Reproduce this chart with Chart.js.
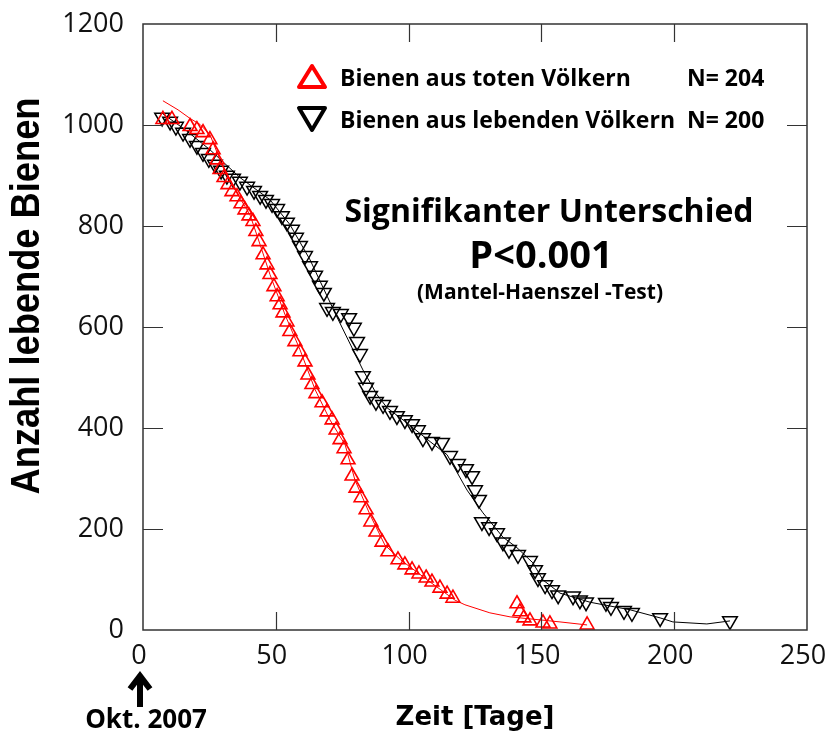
<!DOCTYPE html>
<html>
<head>
<meta charset="utf-8">
<script src="https://cdn.jsdelivr.net/npm/chart.js@4.4.1/dist/chart.umd.min.js"></script>
<style>
  html, body { margin: 0; padding: 0; background: #fff; }
  #wrap { width: 827px; height: 737px; }
</style>
</head>
<body>
<div id="wrap"><canvas id="chart" width="827" height="737"></canvas></div>
<script>
// Bienen aus toten Völkern (Dreiecke, rot)
const redMarkX = [7.5, 10.9, 17.7, 20.3, 22.6, 25.2, 26.4, 27.9, 29.0, 30.5, 32.0, 33.5, 35.4, 36.9, 38.4, 39.9, 41.4, 42.5, 43.7, 45.2,
  46.7, 47.8, 49.3, 50.5, 51.6, 52.7, 54.2, 55.3, 57.2, 59.1, 61.0, 62.1, 63.6, 65.1, 67.4, 69.3, 71.2, 72.7, 74.2, 75.7,
  77.2, 78.7, 80.2, 82.1, 84.0, 85.8, 87.7, 90.0, 92.2, 96.0, 98.6, 101.3, 103.9, 106.6, 108.8, 111.8, 114.5, 116.7,
  140.8, 141.9, 143.4, 145.7, 150.6, 153.2, 167.2];
const redMarkY = [1011, 1011, 997, 991, 985, 971, 951, 931, 912, 896, 882, 868, 858, 844, 832, 820, 809, 789, 769, 743,
  723, 704, 680, 660, 644, 628, 610, 591, 571, 551, 531, 505, 486, 468, 450, 432, 416, 396, 377, 359,
  337, 305, 281, 262, 238, 214, 194, 174, 155, 139, 129, 119, 111, 103, 95, 83, 71, 63,
  52, 36, 24, 18, 14, 12, 10];
const redLineX = [7.5, 13.2, 17.7, 21.5, 25.2, 29.0, 34.6, 40.3, 44.1, 47.8, 53.5, 59.1, 64.8, 70.4, 76.1, 79.8, 85.5, 91.1, 97.0,
  108.1, 117.5, 121.2, 130.6, 138.2, 149.5, 157.0, 167.2];
const redLineY = [1048, 1030, 1013, 1001, 981, 931, 872, 822, 763, 704, 624, 555, 476, 416, 367, 297, 228, 168, 139,
  95, 59, 50, 34, 26, 20, 16, 10];

// Bienen aus lebenden Völkern (Dreiecke, schwarz)
const blackMarkX = [7.2, 10.2, 12.4, 15.1, 17.7, 20.3, 22.6, 24.8, 27.1, 29.4, 31.6, 33.9, 36.5, 39.2, 41.8, 44.1, 46.3, 48.6, 50.5, 52.3,
  54.2, 56.1, 57.6, 59.1, 61.0, 62.9, 64.8, 66.6, 68.1, 69.3, 71.5, 74.5, 77.6, 79.4, 80.6, 81.7, 82.8, 84.0, 85.5, 87.7,
  90.4, 93.0, 95.6, 98.6, 101.3, 103.5, 105.4, 108.8, 112.6, 115.6, 118.6, 121.6, 123.9, 125.0, 126.5, 127.6, 130.3, 133.3,
  135.5, 137.8, 141.2, 145.7, 147.6, 148.7, 151.4, 154.0, 156.3, 161.9, 164.5, 166.8, 174.3, 176.2, 181.1, 184.1, 194.7, 221.0];
const blackMarkY = [1015, 1007, 997, 985, 973, 959, 945, 933, 922, 910, 900, 894, 888, 878, 870, 860, 852, 844, 834, 820,
  807, 793, 777, 761, 741, 721, 702, 682, 668, 638, 630, 626, 618, 599, 571, 547, 503, 480, 464, 452,
  446, 434, 424, 416, 408, 396, 380, 373, 371, 345, 329, 319, 305, 277, 258, 214, 204, 192,
  174, 159, 149, 137, 119, 103, 89, 79, 69, 67, 59, 55, 54, 46, 38, 34, 24, 18];
const blackLineX = [7.5, 15.8, 25.2, 36.5, 47.8, 55.3, 62.9, 73.0, 82.8, 88.1, 91.9, 99.4, 108.1, 114.5, 122.0, 128.0, 135.5,
  140.8, 146.8, 150.6, 157.0, 168.3, 183.4, 194.7, 199.5, 212.3, 221.0];
const blackLineY = [1022, 991, 951, 896, 852, 803, 733, 620, 515, 466, 440, 410, 373, 347, 277, 232, 184,
  163, 133, 99, 73, 55, 40, 24, 16, 12, 18];

const legendLabels = ['Bienen aus toten Völkern', 'Bienen aus lebenden Völkern'];
const legendN = ['N= 204', 'N= 200'];
const noteLines = ['Signifikanter Unterschied', 'P<0.001', '(Mantel-Haenszel -Test)'];
const yTitle = 'Anzahl lebende Bienen';
const xTitle = 'Zeit [Tage]';
const startLabel = 'Okt. 2007';

const RED = '#ff0000';
const pts = (xs, ys) => xs.map((x, i) => ({ x: x, y: ys[i] }));

// Rahmen mit nach innen zeigenden Ticks
const framePlugin = {
  id: 'frame',
  afterDatasetsDraw(chart) {
    const { ctx, chartArea: a, scales: { x, y } } = chart;
    ctx.save();
    ctx.strokeStyle = '#333';
    ctx.lineWidth = 1.5;
    ctx.strokeRect(a.left, a.top, a.right - a.left, a.bottom - a.top);
    ctx.beginPath();
    x.ticks.forEach(t => {
      if (t.value <= x.min || t.value >= x.max) return;
      const px = Math.round(x.getPixelForValue(t.value)) + 0.5;
      ctx.moveTo(px, a.bottom); ctx.lineTo(px, a.bottom - 18);
      ctx.moveTo(px, a.top); ctx.lineTo(px, a.top + 18);
    });
    y.ticks.forEach(t => {
      if (t.value <= y.min || t.value >= y.max) return;
      const py = Math.round(y.getPixelForValue(t.value)) + 0.5;
      ctx.moveTo(a.left, py); ctx.lineTo(a.left + 20, py);
      ctx.moveTo(a.right, py); ctx.lineTo(a.right - 20, py);
    });
    ctx.lineWidth = 1.2;
    ctx.stroke();
    ctx.restore();
  }
};

// Legende, Hinweistext, y-Titel und Startpfeil
const textPlugin = {
  id: 'texts',
  afterDraw(chart) {
    const ctx = chart.ctx;
    ctx.save();
    ctx.fillStyle = '#000';

    // Legende
    ctx.lineJoin = 'round';
    ctx.lineWidth = 4;
    ctx.strokeStyle = RED;
    ctx.beginPath();
    ctx.moveTo(312, 66); ctx.lineTo(325, 87); ctx.lineTo(299, 87); ctx.closePath();
    ctx.stroke();
    ctx.strokeStyle = '#000';
    ctx.beginPath();
    ctx.moveTo(299, 108); ctx.lineTo(325, 108); ctx.lineTo(312, 130); ctx.closePath();
    ctx.stroke();

    ctx.font = 'bold 23px "Open Sans"';
    ctx.textAlign = 'left';
    ctx.textBaseline = 'alphabetic';
    ctx.fillText(legendLabels[0], 340, 86);
    ctx.fillText(legendLabels[1], 340, 128);
    ctx.fillText(legendN[0], 687, 86);
    ctx.fillText(legendN[1], 687, 128);

    // Signifikanz
    ctx.textAlign = 'center';
    ctx.font = 'bold 32px "Open Sans"';
    ctx.fillText(noteLines[0], 549, 222);
    ctx.font = 'bold 38px "Open Sans"';
    ctx.fillText(noteLines[1], 541, 268);
    ctx.font = 'bold 21px "Open Sans"';
    ctx.fillText(noteLines[2], 540, 299);

    // y-Titel (schmal gesetzt)
    ctx.save();
    ctx.font = 'bold 40px "Liberation Sans"';
    const w = ctx.measureText(yTitle).width;
    ctx.translate(39, 296);
    ctx.rotate(-Math.PI / 2);
    ctx.scale(397 / w, 1);
    ctx.textAlign = 'center';
    ctx.fillText(yTitle, 0, 0);
    ctx.restore();

    // Okt. 2007 mit Pfeil
    ctx.font = 'bold 26px "Open Sans"';
    ctx.textAlign = 'center';
    ctx.fillText(startLabel, 146, 728);
    ctx.strokeStyle = '#000';
    ctx.lineWidth = 6;
    ctx.lineJoin = 'miter';
    ctx.beginPath();
    ctx.moveTo(140, 707); ctx.lineTo(140, 676);
    ctx.moveTo(130, 689); ctx.lineTo(140, 676); ctx.lineTo(150, 689);
    ctx.stroke();
    ctx.restore();
  }
};

new Chart(document.getElementById('chart').getContext('2d'), {
  type: 'scatter',
  data: {
    datasets: [
      { label: legendLabels[0] + ' (Kurve)', data: pts(redLineX, redLineY), showLine: true, borderColor: RED, borderWidth: 1, pointRadius: 0, order: 3 },
      { label: legendLabels[1] + ' (Kurve)', data: pts(blackLineX, blackLineY), showLine: true, borderColor: '#000', borderWidth: 1, pointRadius: 0, order: 4 },
      { label: legendLabels[0], data: pts(redMarkX, redMarkY), pointStyle: 'triangle', pointRadius: 8, pointBorderWidth: 1.6,
        borderColor: RED, backgroundColor: 'rgba(0,0,0,0)', order: 1 },
      { label: legendLabels[1], data: pts(blackMarkX, blackMarkY), pointStyle: 'triangle', pointRotation: 180, pointRadius: 8.5, pointBorderWidth: 1.5,
        borderColor: '#000', backgroundColor: 'rgba(0,0,0,0)', order: 2 }
    ]
  },
  plugins: [framePlugin, textPlugin],
  options: {
    responsive: false, animation: false, devicePixelRatio: 1,
    layout: { padding: { top: 24, right: 20, left: 0, bottom: 0 } },
    plugins: { legend: { display: false }, tooltip: { enabled: false } },
    scales: {
      x: {
        type: 'linear', min: 0, max: 250,
        grid: { display: false, drawTicks: false }, border: { display: false },
        ticks: { stepSize: 50, color: '#111', font: { family: 'Open Sans', size: 27 }, padding: 10, labelOffset: -4, callback: v => String(v) },
        title: { display: true, text: xTitle, color: '#000', font: { family: 'DejaVu Sans', weight: 'bold', size: 26 }, padding: { top: 0, bottom: 3 } },
        afterFit: s => { s.height = 107; s.paddingLeft = 0; s.paddingRight = 0; }
      },
      y: {
        min: 0, max: 1200,
        grid: { display: false, drawTicks: false }, border: { display: false },
        ticks: { stepSize: 200, color: '#111', font: { family: 'Open Sans', size: 27 }, padding: 19, callback: v => String(v) },
        afterFit: s => { s.width = 143; s.paddingTop = 0; s.paddingBottom = 0; }
      }
    }
  }
});
</script>
</body>
</html>
